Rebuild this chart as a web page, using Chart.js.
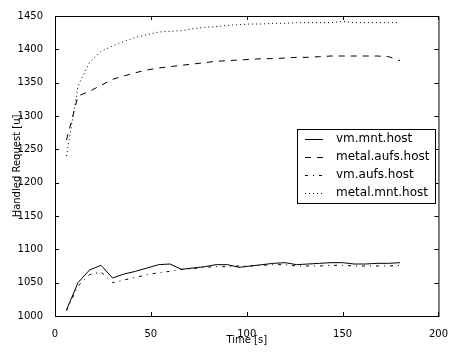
<!DOCTYPE html>
<html>
<head>
<meta charset="utf-8">
<script src="https://cdn.jsdelivr.net/npm/chart.js@4.4.0/dist/chart.umd.min.js"></script>
<style>
  html, body { margin: 0; padding: 0; background: #fff; }
  #wrap { width: 452px; height: 354px; position: relative; }
</style>
</head>
<body>
<div id="wrap"><canvas id="chart"></canvas></div>
<script>
// sample times (s)
const times = [6, 12, 18, 24, 30, 36, 42, 48, 54, 60, 66, 72, 78, 84, 90, 96, 102, 108, 114, 120, 126, 132, 138, 144, 150, 156, 162, 168, 174, 180];

const vmMnt = [1009, 1050, 1069, 1076, 1057, 1063, 1067, 1072, 1077, 1078, 1070, 1072, 1074, 1077, 1077, 1073, 1075, 1077, 1079, 1080, 1077, 1078, 1079, 1080, 1080, 1078, 1078, 1079, 1079, 1080];
const metalAufs = [1264, 1330, 1337, 1346, 1355, 1360, 1365, 1369, 1372, 1374, 1376, 1378, 1380, 1382, 1383, 1384, 1385, 1386, 1386, 1387, 1388, 1388, 1389, 1390, 1390, 1390, 1390, 1390, 1389, 1383];
const vmAufs = [1008, 1045, 1062, 1066, 1050, 1054, 1058, 1062, 1065, 1067, 1070, 1071, 1073, 1074, 1074, 1075, 1075, 1076, 1077, 1077, 1075, 1075, 1075, 1076, 1076, 1075, 1075, 1075, 1075, 1076];
const metalMnt = [1240, 1345, 1380, 1397, 1405, 1412, 1418, 1422, 1426, 1427, 1428, 1431, 1433, 1434, 1436, 1437, 1438, 1438, 1439, 1439, 1440, 1440, 1440, 1440, 1442, 1440, 1440, 1440, 1440, 1440];

const xTicks = [0, 50, 100, 150, 200];
const yTicks = [1000, 1050, 1100, 1150, 1200, 1250, 1300, 1350, 1400, 1450];

const FONT = 'DejaVu Sans';

function pts(values) {
    return values.map((v, i) => ({ x: times[i], y: v }));
}

function series(label, values, dash, color) {
    return {
        label: label,
        data: pts(values),
        borderColor: color,
        borderWidth: 1,
        borderDash: dash,
        pointRadius: 0,
        tension: 0,
        fill: false
    };
}

// frame, inward ticks on all sides, and legend box inside the plot
const framePlugin = {
    id: 'frame',
    afterDraw(chart) {
        const ctx = chart.ctx;
        const a = chart.chartArea;
        const xs = chart.scales.x;
        const ys = chart.scales.y;
        ctx.save();
        ctx.strokeStyle = '#000';
        ctx.lineWidth = 1;
        ctx.strokeRect(a.left + 0.5, a.top + 0.5, a.right - a.left, a.bottom - a.top);

        ctx.beginPath();
        xTicks.forEach(t => {
            const px = Math.round(xs.getPixelForValue(t)) + 0.5;
            ctx.moveTo(px, a.bottom); ctx.lineTo(px, a.bottom - 4);
            ctx.moveTo(px, a.top); ctx.lineTo(px, a.top + 4);
        });
        yTicks.forEach(t => {
            const py = Math.round(ys.getPixelForValue(t)) + 0.5;
            ctx.moveTo(a.left, py); ctx.lineTo(a.left + 4, py);
            ctx.moveTo(a.right, py); ctx.lineTo(a.right - 4, py);
        });
        ctx.stroke();

        // legend
        const bx = 297, by = 129, bw = 138, bh = 74;
        ctx.fillStyle = '#fff';
        ctx.fillRect(bx, by, bw, bh);
        ctx.strokeRect(bx + 0.5, by + 0.5, bw, bh);
        ctx.font = '12px ' + FONT;
        ctx.textBaseline = 'middle';
        chart.data.datasets.forEach((ds, i) => {
            const ry = by + 10 + i * 18;
            ctx.strokeStyle = ds.borderColor;
            ctx.setLineDash(ds.borderDash);
            ctx.beginPath();
            ctx.moveTo(305, ry + 0.5);
            ctx.lineTo(323, ry + 0.5);
            ctx.stroke();
            ctx.setLineDash([]);
            ctx.fillStyle = '#000';
            ctx.fillText(ds.label, 336, ry);
        });
        ctx.restore();
    }
};

new Chart(document.getElementById('chart'), {
    type: 'line',
    data: {
        datasets: [
            series('vm.mnt.host', vmMnt, [], '#000'),
            series('metal.aufs.host', metalAufs, [6, 6], '#000'),
            series('vm.aufs.host', vmAufs, [3, 5, 1, 5], '#000'),
            series('metal.mnt.host', metalMnt, [1, 3], '#000')
        ]
    },
    options: {
        responsive: true,
        maintainAspectRatio: false,
        animation: false,
        layout: { padding: { top: 16, right: 11, left: 0, bottom: 0 } },
        plugins: {
            legend: { display: false },
            tooltip: { enabled: false }
        },
        scales: {
            x: {
                type: 'linear',
                min: 0,
                max: 200,
                afterFit: s => { s.height = 38; },
                afterBuildTicks: s => { s.ticks = xTicks.map(v => ({ value: v })); },
                grid: { display: false },
                border: { display: false },
                ticks: { color: '#000', font: { family: FONT, size: 10 }, padding: 4, maxRotation: 0, callback: v => String(v) },
                title: { display: true, text: 'Time [s]', color: '#000', font: { family: FONT, size: 10 }, padding: { bottom: 8 } }
            },
            y: {
                min: 1000,
                max: 1450,
                afterFit: s => { s.width = 55; },
                afterBuildTicks: s => { s.ticks = yTicks.map(v => ({ value: v })); },
                grid: { display: false },
                border: { display: false },
                ticks: { color: '#000', font: { family: FONT, size: 10 }, padding: 4, callback: v => String(v) },
                title: { display: true, text: 'Handled Request [u]', color: '#000', font: { family: FONT, size: 10 }, padding: { top: 11 } }
            }
        }
    },
    plugins: [framePlugin]
});
</script>
</body>
</html>
